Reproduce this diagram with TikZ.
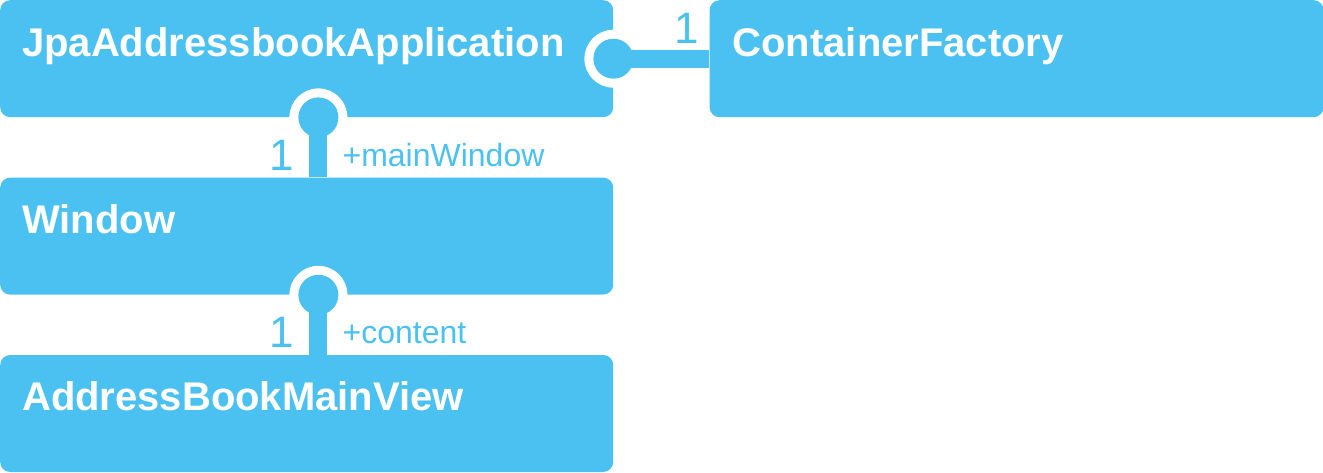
\documentclass[tikz,border=0pt]{standalone}
\usepackage{fontspec}
\setmainfont{Liberation Sans}
\definecolor{uml_blue}{RGB}{74, 193, 240}
\usetikzlibrary{positioning}

\begin{document}
\begin{tikzpicture}[x=1pt, y=-1pt,
            cls/.style={fill=uml_blue, rounded corners=10pt, inner sep=0pt,
                        minimum width=613pt, minimum height=117pt},
            title/.style={anchor=base west, inner sep=0pt, text=white,
                          font=\fontsize{40}{44}\selectfont\bfseries},
            mult/.style={anchor=base east, inner sep=0pt, text=uml_blue,
                         font=\fontsize{44}{48}\selectfont},
            role/.style={anchor=base west, inner sep=0pt, text=uml_blue,
                         font=\fontsize{32}{35}\selectfont},
            link/.style={uml_blue, line width=18pt}]
            \useasboundingbox (0,0) rectangle (1323,472);
            % classes
            \node[cls, anchor=north west] (app) at (0,0) {};
            \node[cls, below=60pt of app] (window) {};
            \node[cls, below=60pt of window] (view) {};
            \node[cls, right=96pt of app, minimum width=614pt] (factory) {};
            \node[title] (apptitle) at ([shift={(22,56)}]app.north west) {JpaAddressbookApplication};
            \node[title] (windowtitle) at ([shift={(22,56)}]window.north west) {Window};
            \node[title] (viewtitle) at ([shift={(22,56)}]view.north west) {AddressBookMainView};
            \node[title] (factorytitle) at ([shift={(23,56)}]factory.north west) {ContainerFactory};
            % aggregation ends
            \coordinate (append) at (app.east);
            \coordinate (mainend) at ([xshift=-295pt]app.south east);
            \coordinate (contentend) at ([xshift=-295pt]window.south east);
            \foreach \c in {append, mainend, contentend}
              \fill[white] (\c) circle (29pt);
            \draw[link] (append) -- (factory.west);
            \draw[link] (mainend) -- (mainend |- window.north);
            \draw[link] (contentend) -- (contentend |- view.north);
            \foreach \c in {append, mainend, contentend}
              \fill[uml_blue] (\c) circle (20pt);
            % labels
            \node[mult] (factorymult) at ([shift={(-10,43)}]factory.north west) {1};
            \node[mult] (mainmult) at ([shift={(-24,53)}]mainend) {1};
            \node[role] (mainrole) at ([shift={(24,49)}]mainend) {+mainWindow};
            \node[mult] (contentmult) at ([shift={(-24,53)}]contentend) {1};
            \node[role] (contentrole) at ([shift={(24,49)}]contentend) {+content};
          \end{tikzpicture}
\end{document}
